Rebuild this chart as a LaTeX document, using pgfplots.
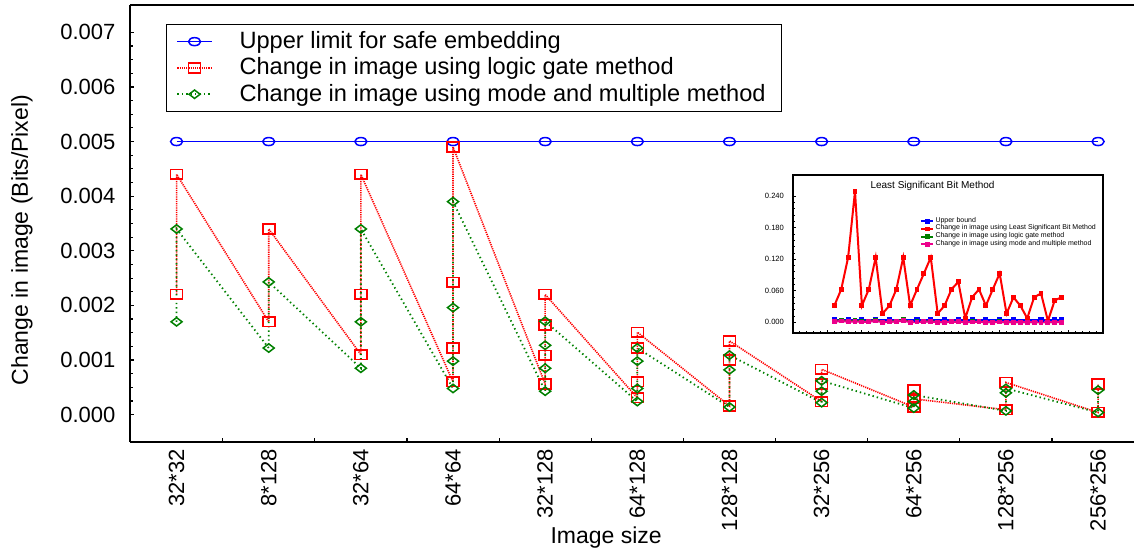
\documentclass[border=0pt]{standalone}
\usepackage{pgfplots}
\pgfplotsset{compat=1.18}
\usepackage{pgfplotstable}
\usepackage{fontspec}
\setmainfont{Liberation Sans}
\usetikzlibrary{calc}
\definecolor{dgreen}{RGB}{0,128,0}

\pgfplotstableread{
x y
0 0.0050
1 0.0050
2 0.0050
3 0.0050
4 0.0050
5 0.0050
6 0.0050
7 0.0050
8 0.0050
9 0.0050
10 0.0050
}\upperlimit

\pgfplotstableread{
x y
0 0.00220
0 0.00440
1 0.00170
1 0.00340
2 0.00110
2 0.00220
2 0.00440
3 0.00060
3 0.00122
3 0.00242
3 0.00490
4 0.00056
4 0.00109
4 0.00164
4 0.00220
5 0.00031
5 0.00060
5 0.00122
5 0.00151
6 0.00016
6 0.00100
6 0.00135
7 0.00024
7 0.00056
7 0.00083
8 0.00014
8 0.00045
8 0.00029
9 0.00009
9 0.00059
10 0.00004
10 0.00056
}\logicgate

\pgfplotstableread{
x y
0 0.00170
0 0.00340
1 0.00122
1 0.00243
2 0.00085
2 0.00170
2 0.00340
3 0.00048
3 0.00098
3 0.00196
3 0.00390
4 0.00043
4 0.00085
4 0.00127
4 0.00171
5 0.00024
5 0.00048
5 0.00098
5 0.00122
6 0.00014
6 0.00082
6 0.00109
7 0.00022
7 0.00043
7 0.00062
8 0.00012
8 0.00024
8 0.00036
9 0.00007
9 0.00040
9 0.00048
10 0.00004
10 0.00045
}\modemult

\pgfplotstableread{
x y
1 0.0317
2 0.0627
3 0.1235
4 0.2495
5 0.0317
6 0.0627
7 0.1235
8 0.0165
9 0.0317
10 0.0627
11 0.1235
12 0.0317
13 0.0627
14 0.0930
15 0.1235
16 0.0165
17 0.0317
18 0.0627
19 0.0770
20 0.0076
21 0.0475
22 0.0627
23 0.0317
24 0.0627
25 0.0930
26 0.0165
27 0.0475
28 0.0317
29 0.0076
30 0.0475
31 0.0550
32 0.0025
33 0.0420
34 0.0475
}\lsb

\pgfplotstableread{
x y
1 0.0050
3 0.0050
5 0.0050
7 0.0050
9 0.0050
11 0.0050
13 0.0050
15 0.0050
17 0.0050
19 0.0050
21 0.0050
23 0.0050
25 0.0050
27 0.0050
29 0.0050
31 0.0050
33 0.0050
34 0.0050
}\ubound

\pgfplotstableread{
x y
1 0.0022
2 0.0044
3 0.0017
4 0.0034
5 0.0011
6 0.0022
7 0.0044
8 0.0006
9 0.0012
10 0.0024
11 0.0049
12 0.0006
13 0.0011
14 0.0016
15 0.0022
16 0.0003
17 0.0006
18 0.0012
19 0.0015
20 0.0002
21 0.0010
22 0.0013
23 0.0002
24 0.0006
25 0.0008
26 0.0001
27 0.0005
28 0.0003
29 0.0001
30 0.0006
31 0.0003
32 0.0000
33 0.0006
34 0.0005
}\lgsmall

\pgfplotstableread{
x y
1 0.0012
2 0.0024
3 0.0009
4 0.0017
5 0.0006
6 0.0012
7 0.0024
8 0.0003
9 0.0007
10 0.0014
11 0.0028
12 0.0003
13 0.0006
14 0.0009
15 0.0012
16 0.0002
17 0.0003
18 0.0007
19 0.0009
20 0.0001
21 0.0006
22 0.0008
23 0.0001
24 0.0003
25 0.0004
26 0.0001
27 0.0002
28 0.0002
29 0.0000
30 0.0003
31 0.0003
32 0.0000
33 0.0003
34 0.0003
}\mmsmall

\begin{document}
\begin{tikzpicture}
\begin{axis}[
  name=main,
  scale only axis,
  width=501.75pt, height=218.5pt,
  xmin=-0.5, xmax=10.39,
  ymin=-0.0005, ymax=0.0075,
  axis x line*=box, axis y line*=left,
  axis line style={line width=1pt, black},
  xtick={0.5,1.5,...,9.5}, xticklabels={},
  extra x ticks={0,1,2,3,4,5,6,7,8,9,10},
  extra x tick labels={32*32,8*128,32*64,64*64,32*128,64*128,128*128,32*256,64*256,128*256,256*256},
  extra x tick style={major tick length=0pt, tick label style={rotate=90, anchor=east, xshift=0pt}},
  xtick pos=left, ytick pos=left,
  tick align=inside,
  major tick length=2pt, minor tick length=1.5pt,
  tick style={black, line width=0.6pt},
  ytick={0,0.001,...,0.0071},
  minor y tick num=3,
  scaled y ticks=false,
  yticklabel style={/pgf/number format/fixed, /pgf/number format/fixed zerofill, /pgf/number format/precision=3, xshift=-4pt},
  /pgf/number format/assume math mode=true,
  tick label style={font=\fontsize{11}{13}\selectfont},
  label style={font=\fontsize{11.5}{13}\selectfont},
  ylabel={Change in image (Bits/Pixel)},
  ylabel style={at={(axis description cs:-0.1081,0.462)}, anchor=center},
  xlabel={Image size},
  xlabel style={at={(axis description cs:0.474,-0.2197)}, anchor=center},
  legend style={at={(0,1)}, anchor=north west, xshift=17.75pt, yshift=-9.5pt,
    font=\fontsize{11.8}{13}\selectfont, draw=black, line width=0.6pt,
    row sep=-0.9pt, inner xsep=5pt, inner ysep=1.5pt,
    nodes={inner xsep=3pt},
    /tikz/every odd column/.append style={column sep=10.5pt}},
  legend cell align=left,
]
\addplot[blue, line width=0.75pt, mark=o, mark size=2pt, mark options={solid, xscale=1.5, line width=0.75pt}] table {\upperlimit};
\addlegendentry{Upper limit for safe embedding}
\addplot[red, line width=0.8pt, dash pattern=on 0.6pt off 0.5pt, mark=square, mark size=3pt, mark options={solid, yscale=0.8, line width=0.8pt}] table {\logicgate};
\addlegendentry{Change in image using logic gate method}
\addplot[dgreen, line width=0.9pt, dash pattern=on 0.7pt off 1.5pt, mark=diamond, mark size=2.1pt, mark options={solid, xscale=1.75, line width=0.75pt}] table {\modemult};
\addlegendentry{Change in image using mode and multiple method}
\end{axis}

\begin{axis}[
  at={($(main.south west)+(331.25pt,54.35pt)$)}, anchor=south west,
  scale only axis,
  width=155pt, height=79pt,
  xmin=-5, xmax=40, ymin=-0.021, ymax=0.28,
  axis background/.style={fill=white},
  axis line style={line width=1pt, black},
  xtick={-5,0,...,40}, xticklabels={}, minor x tick num=4,
  ytick={0,0.06,0.12,0.18,0.24}, minor y tick num=4,
  xtick pos=left, ytick pos=left,
  tick align=inside,
  major tick length=1.5pt, minor tick length=1pt,
  tick style={black, line width=0.4pt},
  scaled y ticks=false,
  yticklabel style={/pgf/number format/fixed, /pgf/number format/fixed zerofill, /pgf/number format/precision=3, font=\fontsize{3.8}{4}\selectfont, xshift=-1pt},
  /pgf/number format/assume math mode=true,
  legend style={at={(0.39,0.77)}, anchor=north west, draw=none, fill=none,
    font=\fontsize{3.5}{4}\selectfont, row sep=-1.4pt, nodes={inner sep=0.6pt}},
  legend cell align=left,
  legend image code/.code={\draw[#1, line width=1pt] (0pt,0pt) -- (6pt,0pt); \draw[#1, mark repeat=1] plot coordinates {(3pt,0pt)};},
]
\addplot[blue, line width=1pt, mark=square*, mark size=0.8pt] table {\ubound};
\addlegendentry{Upper bound}
\addplot[red, line width=1pt, mark=square*, mark size=0.7pt] table {\lsb};
\addlegendentry{Change in image using Least Significant Bit Method}
\addplot[dgreen, line width=1pt, mark=square*, mark size=0.7pt] table {\lgsmall};
\addlegendentry{Change in image using logic gate method}
\addplot[magenta, line width=1pt, mark=square*, mark size=0.7pt] table {\mmsmall};
\addlegendentry{Change in image using mode and multiple method}
\node[font=\fontsize{5}{6}\selectfont] at (rel axis cs:0.45,0.93) {Least Significant Bit Method};
\end{axis}
\pgfresetboundingbox
\path ([shift={(-65.25pt,-55pt)}]main.south west) rectangle ([shift={(0pt,2.5pt)}]main.north east);
\end{tikzpicture}
\end{document}
